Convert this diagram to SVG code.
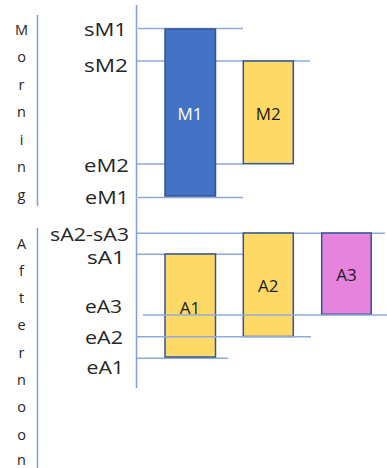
<svg xmlns="http://www.w3.org/2000/svg" width="387" height="468" viewBox="0 0 387 468">
<style>
.bg{fill:#ffffff}
.hl{stroke:#8FAADC;stroke-width:1.5;fill:none}
.vl{stroke:#7F9ED8;stroke-width:1.5;fill:none}
.lbl{font-family:"Open Sans","Liberation Sans",sans-serif;font-size:18.5px;fill:#262626}
.side{font-family:"Open Sans","Liberation Sans",sans-serif;font-size:14.5px;fill:#262626;text-anchor:middle}
.box{stroke:#2F5597;stroke-width:1.5}
.blue{fill:#4472C4}
.yel{fill:#FFD966}
.pink{fill:#E683DC}
.bt{font-family:"Open Sans","Liberation Sans",sans-serif;font-size:17px;text-anchor:middle}
</style>
<rect class="bg" x="0" y="0" width="387" height="468"/>
<g id="side-labels">
<line class="vl" x1="37.5" y1="15" x2="37.5" y2="206"/>
<line class="vl" x1="37.5" y1="228" x2="37.5" y2="468"/>
<text class="side" x="21.5" y="34.5">M</text>
<text class="side" x="21.5" y="62">o</text>
<text class="side" x="21.5" y="89.5">r</text>
<text class="side" x="21.5" y="117">n</text>
<text class="side" x="21.5" y="144.5">i</text>
<text class="side" x="21.5" y="172">n</text>
<text class="side" x="21.5" y="199.5">g</text>
<text class="side" x="21.5" y="248.5">A</text>
<text class="side" x="21.5" y="275.8">f</text>
<text class="side" x="21.5" y="303">t</text>
<text class="side" x="21.5" y="330.3">e</text>
<text class="side" x="21.5" y="357.6">r</text>
<text class="side" x="21.5" y="384.9">n</text>
<text class="side" x="21.5" y="412.2">o</text>
<text class="side" x="21.5" y="439.5">o</text>
<text class="side" x="21.5" y="465">n</text>
</g>
<g id="axis-labels">
<text class="lbl" x="84" y="36" textLength="43" lengthAdjust="spacingAndGlyphs">sM1</text>
<text class="lbl" x="84" y="72" textLength="44" lengthAdjust="spacingAndGlyphs">sM2</text>
<text class="lbl" x="84" y="172" textLength="45" lengthAdjust="spacingAndGlyphs">eM2</text>
<text class="lbl" x="85" y="204" textLength="44" lengthAdjust="spacingAndGlyphs">eM1</text>
<text class="lbl" x="50" y="241" textLength="79" lengthAdjust="spacingAndGlyphs">sA2-sA3</text>
<text class="lbl" x="87" y="264" textLength="38" lengthAdjust="spacingAndGlyphs">sA1</text>
<text class="lbl" x="85" y="313" textLength="37" lengthAdjust="spacingAndGlyphs">eA3</text>
<text class="lbl" x="85" y="344" textLength="38" lengthAdjust="spacingAndGlyphs">eA2</text>
<text class="lbl" x="86.5" y="374" textLength="37.5" lengthAdjust="spacingAndGlyphs">eA1</text>
</g>
<g id="connectors">
<line class="vl" x1="136.5" y1="5" x2="136.5" y2="388"/>
<line class="hl" x1="138" y1="28.5" x2="243" y2="28.5"/>
<line class="hl" x1="137" y1="61" x2="310" y2="61"/>
<line class="hl" x1="137" y1="164" x2="243" y2="164"/>
<line class="hl" x1="138" y1="197.5" x2="243" y2="197.5"/>
<line class="hl" x1="137" y1="233.3" x2="385" y2="233.3"/>
<line class="hl" x1="137" y1="254.3" x2="243" y2="254.3"/>
<line class="hl" x1="137" y1="358.3" x2="228" y2="358.3"/>
</g>
<g id="M1">
<rect class="box blue" x="165" y="29" width="50.5" height="167"/>
<text class="bt" x="190" y="120" fill="#ffffff">M1</text>
</g>
<g id="M2">
<rect class="box yel" x="243.3" y="61" width="50" height="102.7"/>
<text class="bt" x="268.3" y="120" fill="#1a1a1a">M2</text>
</g>
<g id="A1">
<rect class="box yel" x="165" y="254" width="50.5" height="103"/>
<text class="bt" x="190" y="314" fill="#1a1a1a">A1</text>
</g>
<g id="A2">
<rect class="box yel" x="243.3" y="233" width="50" height="103.5"/>
<text class="bt" x="268.3" y="292" fill="#1a1a1a">A2</text>
</g>
<g id="A3">
<rect class="box pink" x="321.7" y="233" width="49.5" height="81.3"/>
<text class="bt" x="346.5" y="281" fill="#1a1a1a">A3</text>
</g>
<g id="overlay-connectors">
<line class="hl" x1="143" y1="315" x2="387" y2="315"/>
<line class="hl" x1="136" y1="336.7" x2="311" y2="336.7"/>
</g>
</svg>
